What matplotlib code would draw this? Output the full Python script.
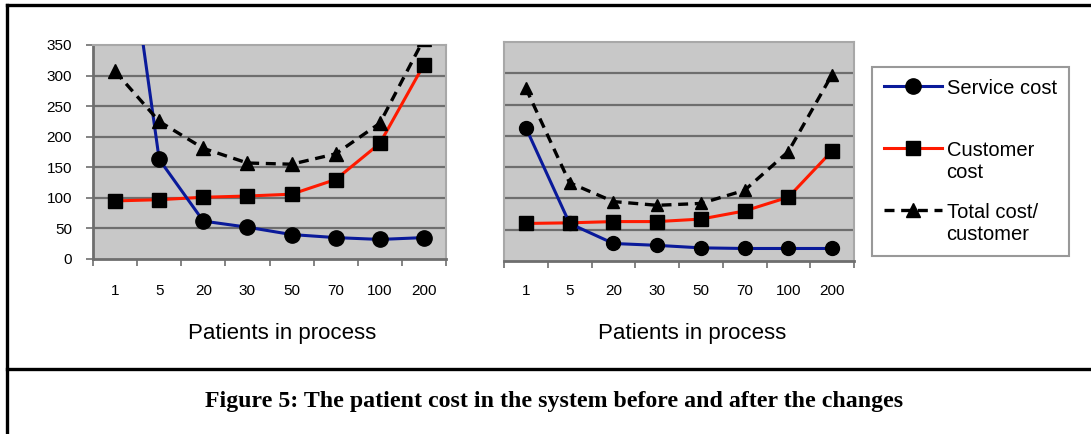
import matplotlib
matplotlib.use("Agg")
import matplotlib.pyplot as plt
from matplotlib.lines import Line2D

categories = ["1", "5", "20", "30", "50", "70", "100", "200"]
yticks = [0, 50, 100, 150, 200, 250, 300, 350]

before_service = [680, 163, 62, 52, 40, 35, 32, 35]
before_customer = [95, 97, 101, 103, 106, 130, 189, 318]
before_total = [307, 225, 181, 157, 155, 172, 222, 360]

after_service = [213, 60, 28, 25, 21, 20, 20, 20]
after_customer = [60, 61, 63, 63, 67, 80, 102, 176]
after_total = [276, 125, 95, 89, 92, 113, 175, 298]

series_labels = ["Service cost\n", "Customer\ncost", "Total cost/\ncustomer"]
xlabel = "Patients in process"
caption = "Figure 5: The patient cost in the system before and after the changes"

W, H = 1091, 434
fig = plt.figure(figsize=(W / 100, H / 100), dpi=100)
plt.rcParams['font.family'] = ['Liberation Sans', 'DejaVu Sans']

BG = "#c8c8c8"
GRID = "#6e6e6e"
LIGHT = "#a8a8a8"


def px_axes(x0, y0, x1, y1):
    return fig.add_axes([x0 / W, 1 - y1 / H, (x1 - x0) / W, (y1 - y0) / H])


def draw(ax, service, customer, total, ms, show_y, pad):
    x = list(range(len(categories)))
    ax.set_facecolor(BG)
    ax.set_xlim(-0.5, len(categories) - 0.5)
    ax.set_ylim(0, 350)
    ax.set_yticks(yticks)
    for v in yticks[1:-1]:
        ax.axhline(v, color=GRID, lw=1.6, zorder=1)
    h1, = ax.plot(x, service, color="#0a1a9a", lw=2.2, marker="o", ms=ms,
                  mfc="black", mec="black", zorder=4)
    h2, = ax.plot(x, customer, color="#ff1a00", lw=2.2, marker="s", ms=ms - 0.5,
                  mfc="black", mec="black", zorder=3)
    h3, = ax.plot(x, total, color="black", lw=2.4, ls=(0, (3, 2)), marker="^",
                  ms=ms - 1.5, mfc="black", mec="black", zorder=5)
    ax.set_xticks(x)
    ax.set_xticklabels(categories, fontsize=11)
    ax.set_xticks([i - 0.5 for i in range(len(categories) + 1)], minor=True)
    ax.tick_params(axis="x", which="major", length=0, pad=pad)
    ax.tick_params(axis="x", which="minor", length=5, width=1.2, color=GRID)
    for s in ["top", "right"]:
        ax.spines[s].set_color(LIGHT)
        ax.spines[s].set_linewidth(1.5)
    ax.spines["bottom"].set_color(GRID)
    ax.spines["bottom"].set_linewidth(2)
    if show_y:
        ax.spines["left"].set_color(GRID)
        ax.spines["left"].set_linewidth(2)
        ax.set_yticklabels([str(v) for v in yticks], fontsize=11)
        ax.tick_params(axis="y", length=5, width=1.2, color=GRID, pad=10)
    else:
        ax.spines["left"].set_color(LIGHT)
        ax.spines["left"].set_linewidth(1.5)
        ax.tick_params(axis="y", length=0, labelleft=False)
    return h1, h2, h3


ax1 = px_axes(93, 45, 446, 259)
handles = draw(ax1, before_service, before_customer, before_total, 11, True, 18)
ax2 = px_axes(504, 42, 854, 261)
draw(ax2, after_service, after_customer, after_total, 10, False, 16.5)

fig.text(282 / W, 1 - 333 / H, xlabel, ha="center", va="center", fontsize=16)
fig.text(692 / W, 1 - 333 / H, xlabel, ha="center", va="center", fontsize=16)

leg = fig.legend(handles, series_labels, loc="upper left",
                 bbox_to_anchor=(872 / W, 1 - 67 / H), fontsize=14.5,
                 frameon=True, fancybox=False, edgecolor="#808080",
                 handlelength=2.9, handletextpad=0.2, labelspacing=1.05,
                 borderpad=0.6, borderaxespad=0)
leg.get_frame().set_linewidth(1.5)
for col in leg._legend_handle_box.get_children():
    for row in col.get_children():
        row.align = "top"

fig.text(554 / W, 1 - 401 / H, caption, ha="center", va="center",
         fontsize=17.2, fontweight="bold", family=["Liberation Serif", "DejaVu Serif"])

fig.add_artist(Line2D([6.5 / W, 1], [1 - 5 / H, 1 - 5 / H], color="black", lw=2.4))
fig.add_artist(Line2D([6.5 / W, 6.5 / W], [0, 1 - 5 / H], color="black", lw=2.4))
fig.add_artist(Line2D([6.5 / W, 1], [1 - 369 / H, 1 - 369 / H], color="black", lw=2.4))

fig.savefig("out.png", dpi=100)
